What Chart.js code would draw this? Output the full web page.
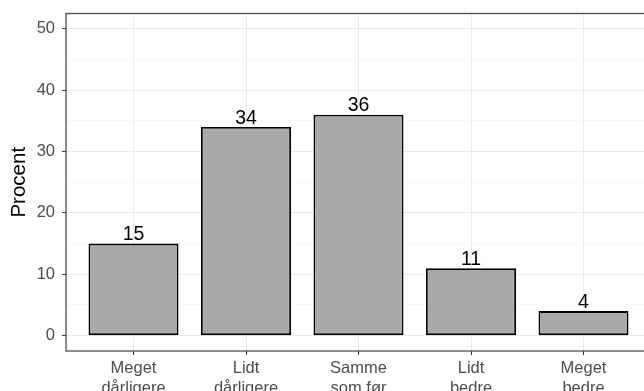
<!DOCTYPE html>
<html>
<head>
<meta charset="utf-8">
<script src="https://cdn.jsdelivr.net/npm/chart.js@4"></script>
<style>
  html, body { margin: 0; padding: 0; background: #fff; }
  #wrap { width: 644px; height: 391px; overflow: hidden; position: relative; }
  #wrap canvas { position: absolute; left: 0; top: 0; }
</style>
</head>
<body>
<div id="wrap"><canvas id="myChart" width="672" height="420"></canvas></div>
<script>
// data
const kategorier = [["Meget", "dårligere"], ["Lidt", "dårligere"], ["Samme", "som før"], ["Lidt", "bedre"], ["Meget", "bedre"]];
const procent = [15, 34, 36, 11, 4];
const yTicks = [0, 5, 10, 15, 20, 25, 30, 35, 40, 45, 50];

const FONT = "'Liberation Sans', Arial, sans-serif";

// ramme om panelet
const ramme = {
    id: 'ramme',
    afterDatasetsDraw(chart) {
        const a = chart.chartArea;
        const ctx = chart.ctx;
        ctx.save();
        ctx.strokeStyle = '#4D4D4D';
        ctx.lineWidth = 1.3;
        ctx.strokeRect(a.left, a.top, a.right - a.left, a.bottom - a.top);
        ctx.restore();
    }
};

// tal over søjlerne
const etiketter = {
    id: 'etiketter',
    afterDatasetsDraw(chart) {
        const ctx = chart.ctx;
        const meta = chart.getDatasetMeta(0);
        ctx.save();
        ctx.fillStyle = '#000';
        ctx.font = '19.5px ' + FONT;
        ctx.textAlign = 'center';
        ctx.textBaseline = 'alphabetic';
        meta.data.forEach((bar, i) => {
            ctx.fillText(procent[i], bar.x, bar.y - 3.5);
        });
        ctx.restore();
    }
};

const ctx = document.querySelector('#myChart').getContext('2d');
const data = {
    datasets: [{
        data: procent.map((v, i) => ({ x: i + 1, y: v })),
        backgroundColor: '#A9A9A9',
        borderColor: '#000000',
        borderWidth: 1.8,
        borderSkipped: false,
        categoryPercentage: 1,
        barPercentage: 0.8
    }]
};

new Chart(ctx, {
    type: 'bar',
    data: data,
    options: {
        responsive: false,
        animation: false,
        layout: { padding: { top: 13.5, right: 21, left: 0, bottom: 0 } },
        plugins: { legend: { display: false }, tooltip: { enabled: false } },
        scales: {
            x: {
                type: 'linear',
                min: 0.4,
                max: 5.6,
                offset: false,
                afterBuildTicks: (scale) => { scale.ticks = kategorier.map((k, i) => ({ value: i + 1 })); },
                afterFit: (scale) => { scale.height = 69; scale.paddingLeft = 0; scale.paddingRight = 0; },
                ticks: {
                    callback: (v) => kategorier[v - 1],
                    color: '#4D4D4D',
                    font: { family: FONT, size: 16.5, lineHeight: 1.2 },
                    padding: 4,
                    maxRotation: 0,
                    autoSkip: false
                },
                grid: {
                    offset: false,
                    color: '#EBEBEB',
                    lineWidth: 1,
                    tickLength: 4,
                    tickColor: '#333333'
                },
                border: { display: false }
            },
            y: {
                min: -2.5,
                max: 52.5,
                afterBuildTicks: (scale) => { scale.ticks = yTicks.map(v => ({ value: v })); },
                afterFit: (scale) => { scale.width = 66; scale.paddingTop = 0; scale.paddingBottom = 0; },
                ticks: {
                    callback: (v) => (v % 10 === 0 ? String(v) : ''),
                    color: '#4D4D4D',
                    font: { family: FONT, size: 16.5 },
                    padding: 7
                },
                grid: {
                    color: (c) => (c.tick && c.tick.value % 10 === 0 ? '#EBEBEB' : '#F3F3F3'),
                    lineWidth: (c) => (c.tick && c.tick.value % 10 === 0 ? 1 : 0.7),
                    tickLength: 4,
                    tickColor: (c) => (c.tick && c.tick.value % 10 === 0 ? '#333333' : 'rgba(0,0,0,0)')
                },
                border: { display: false },
                title: {
                    display: true,
                    text: 'Procent',
                    color: '#000',
                    font: { family: FONT, size: 20.5 },
                    padding: { top: 7, bottom: 0 }
                }
            }
        }
    },
    plugins: [ramme, etiketter]
});
</script>
</body>
</html>
